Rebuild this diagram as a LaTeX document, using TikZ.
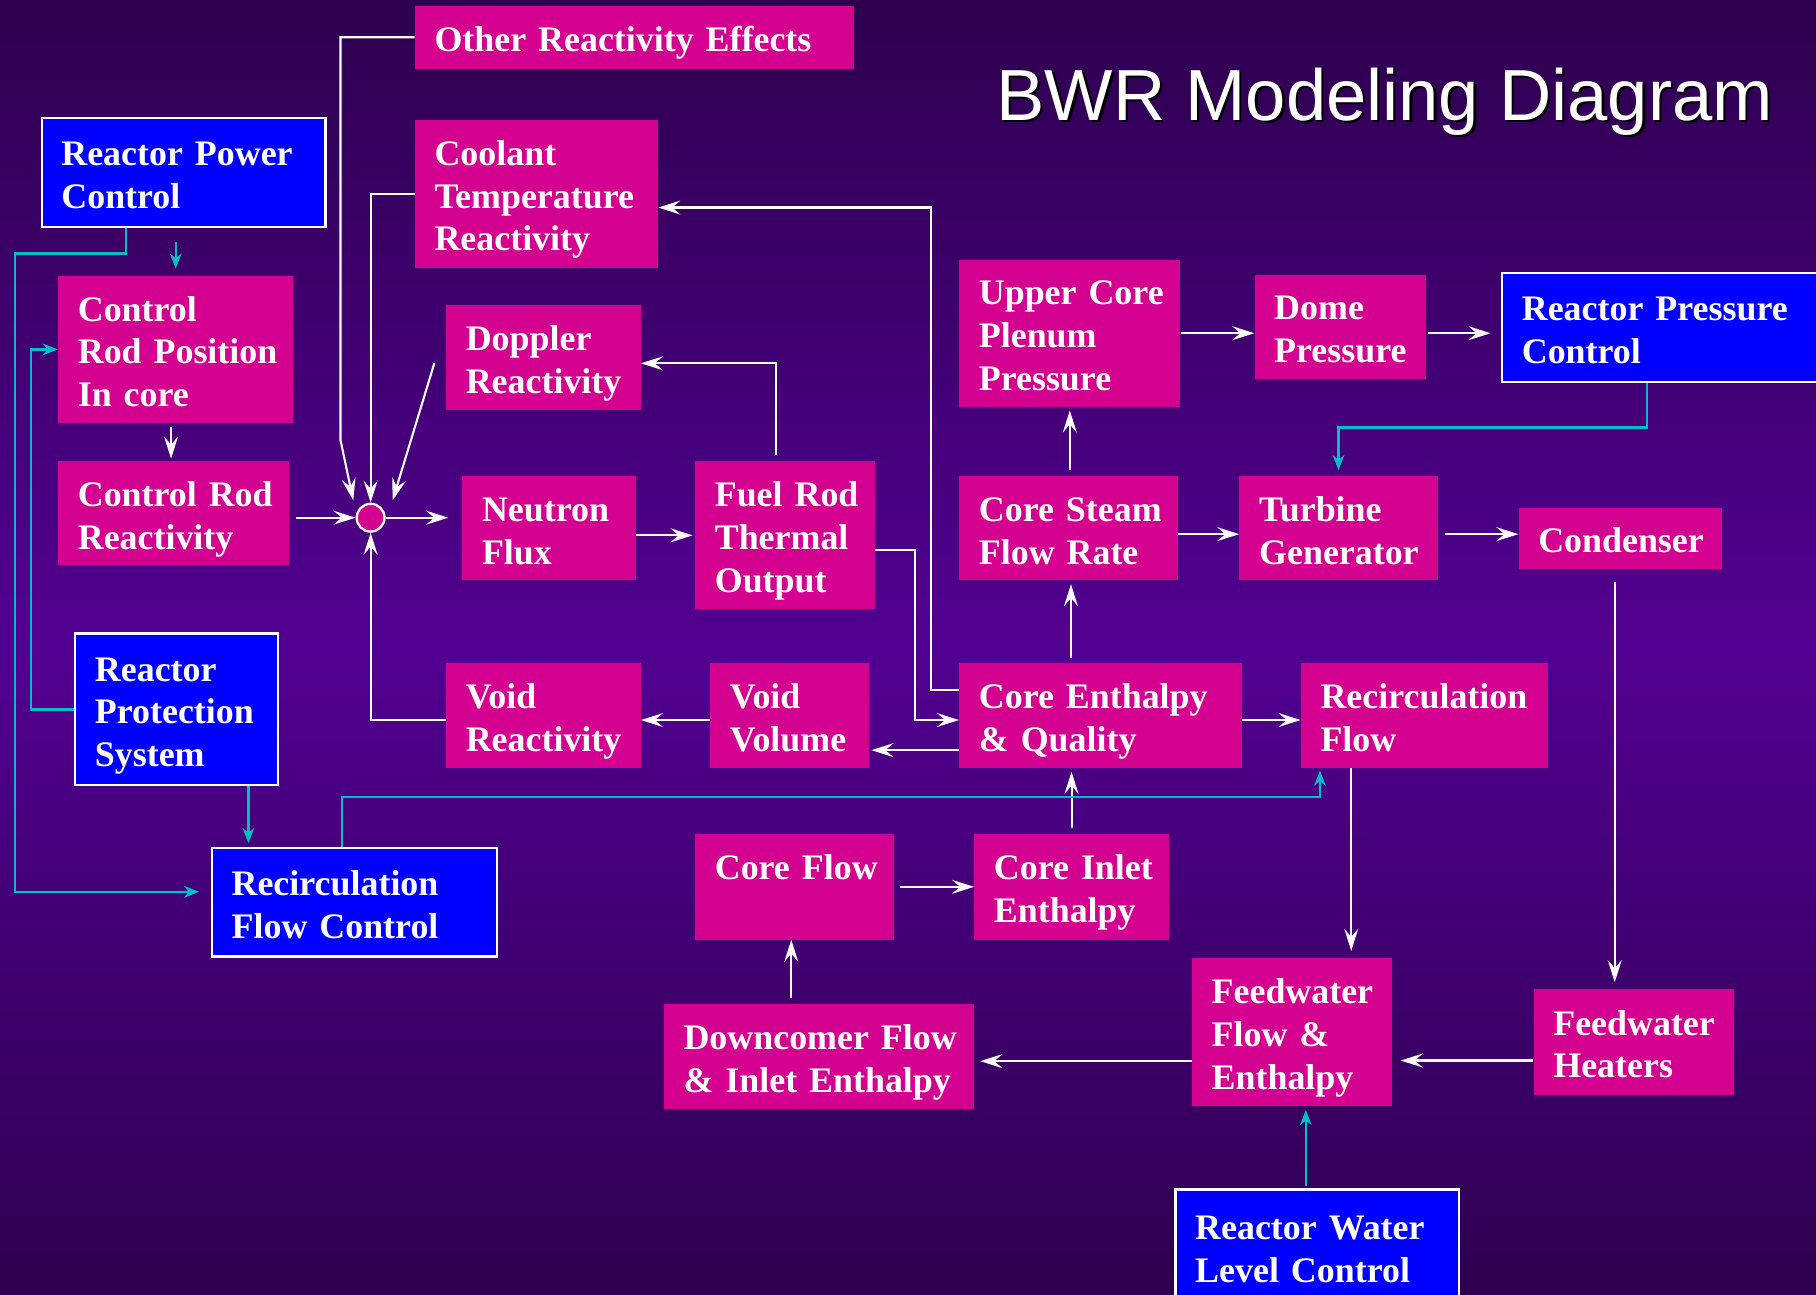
\documentclass[tikz,border=0pt]{standalone}
\usepackage{fontspec}
\setmainfont{Liberation Serif}
\newfontfamily\titlefont{Liberation Sans}
\usetikzlibrary{arrows.meta}
\definecolor{boxmag}{RGB}{212,0,143}
\definecolor{ctrlblue}{RGB}{0,0,255}
\definecolor{sigcyan}{RGB}{0,190,200}
\definecolor{bgdark}{RGB}{45,0,78}
\definecolor{bgmid}{RGB}{82,0,145}
\newcommand{\blockfont}{\bfseries\fontsize{31}{37}\selectfont}
\hyphenpenalty=10000

\begin{document}
\begin{tikzpicture}[x=1pt, y=-1pt,
  mbox/.style={fill=boxmag, text=white, anchor=north west, align=left,
    inner xsep=17pt, inner ysep=0pt, font=\blockfont,
    execute at begin node={\rule{0pt}{32pt}},
    execute at end node={\rule[-7pt]{0pt}{7pt}}},
  cbox/.style={mbox, fill=ctrlblue, draw=white, line width=2pt},
  flow/.style={draw=white, line width=1.8pt,
    -{Stealth[length=19pt, width=12pt, inset=7pt]}},
  sig/.style={draw=sigcyan, line width=2pt,
    -{Stealth[length=13pt, width=10pt, inset=4pt]}}]
  \useasboundingbox (0,0) rectangle (1568,1118);
  \shade[top color=bgdark, bottom color=bgdark, middle color=bgmid] (0,0) rectangle (1568,1118);
  % Title
  \node[anchor=base west, font=\titlefont\fontsize{62.5}{70}\selectfont, text=black] (titleshadow) at (859,106) {BWR Modeling Diagram};
  \node[anchor=base west, font=\titlefont\fontsize{62.5}{70}\selectfont, text=white] (title) at (857,104) {BWR Modeling Diagram};
  % Reactivity side
  \node[mbox, text width=345pt, minimum height=54pt] (other) at (358,5) {Other Reactivity Effects};
  \node[mbox, text width=176pt, minimum height=128pt] (coolant) at (358,103) {Coolant\\Temperature\\Reactivity};
  \node[mbox, text width=134pt, minimum height=91pt] (doppler) at (385,263) {Doppler\\Reactivity};
  \node[mbox, text width=169pt, minimum height=127pt] (crpos) at (50,238) {Control\\Rod~Position\\In~core};
  \node[mbox, text width=165pt, minimum height=90pt] (crreact) at (50,398) {Control~Rod\\Reactivity};
  \node[circle, fill=boxmag, draw=white, line width=2pt, minimum size=24pt, inner sep=0pt] (sum) at (320,447) {};
  \node[mbox, text width=116pt, minimum height=90pt] (flux) at (399,411) {Neutron\\Flux};
  \node[mbox, text width=121pt, minimum height=128pt] (fuel) at (600,398) {Fuel~Rod\\Thermal\\Output};
  \node[mbox, text width=134pt, minimum height=91pt] (voidr) at (385,572) {Void\\Reactivity};
  \node[mbox, text width=103pt, minimum height=91pt] (voidv) at (613,572) {Void\\Volume};
  % Steam side
  \node[mbox, text width=157pt, minimum height=127pt] (upper) at (828,224) {Upper~Core\\Plenum\\Pressure};
  \node[mbox, text width=114pt, minimum height=90pt] (dome) at (1083,237) {Dome\\Pressure};
  \node[mbox, text width=155pt, minimum height=90pt] (steam) at (828,411) {Core~Steam\\Flow~Rate};
  \node[mbox, text width=137pt, minimum height=90pt] (turbine) at (1070,411) {Turbine\\Generator};
  \node[mbox, text width=142pt, minimum height=53pt] (condenser) at (1311,438) {Condenser};
  \node[mbox, text width=210pt, minimum height=91pt] (enth) at (828,572) {Core~Enthalpy\\\&~Quality};
  \node[mbox, text width=179pt, minimum height=91pt] (recirc) at (1123,572) {Recirculation\\Flow};
  % Flow loop
  \node[mbox, text width=138pt, minimum height=91pt] (coreflow) at (600,720) {Core~Flow\\\mbox{}};
  \node[mbox, text width=134pt, minimum height=91pt] (inlet) at (841,720) {Core~Inlet\\Enthalpy};
  \node[mbox, text width=234pt, minimum height=90pt] (downc) at (573,867) {Downcomer~Flow\\\&~Inlet~Enthalpy};
  \node[mbox, text width=139pt, minimum height=128pt] (fwflow) at (1029,827) {Feedwater\\Flow~\&\\Enthalpy};
  \node[mbox, text width=139pt, minimum height=91pt] (fwheat) at (1324,854) {Feedwater\\Heaters};
  % Control systems
  \node[cbox, text width=211pt, minimum height=94pt] (rpc) at (35,101) {Reactor~Power\\Control};
  \node[cbox, text width=238pt, minimum height=94pt] (rprc) at (1296,235) {Reactor~Pressure\\Control};
  \node[cbox, text width=141pt, minimum height=131pt] (rps) at (64,546) {Reactor\\Protection\\System};
  \node[cbox, text width=212pt, minimum height=94pt] (rfc) at (182,731) {Recirculation\\Flow~Control};
  \node[cbox, text width=211pt, minimum height=98pt] (rwlc) at (1014,1026) {Reactor~Water\\Level~Control};
  % Arrows into the summing point
  \draw[flow] (other.west) -| (294,380) -- ([shift={(-15pt,15pt)}]sum.center);
  \draw[flow] (coolant.west) -| (sum.north);
  \draw[flow] ([shift={(-10pt,-5pt)}]doppler.west) -- ([shift={(19pt,15pt)}]sum.center);
  \draw[flow, shorten <=6pt] (crreact.east |- sum.west) -- (sum.west);
  \draw[flow] ([yshift=-4pt]voidr.west) -| (sum.south);
  \draw[flow, shorten >=12pt] (sum.east) -- (sum.east -| flux.west);
  \draw[flow, shorten <=3pt, shorten >=2pt] ([xshift=-4pt]crpos.south) -- ([xshift=-4pt]crpos.south |- crreact.north);
  % Core arrows
  \draw[flow, shorten >=2pt] (flux.east |- fuel.west) -- (fuel.west);
  \draw[flow] ([shift={(-8pt,5pt)}]fuel.north) |- ([yshift=-5pt]doppler.east);
  \draw[flow] ([yshift=-13pt]fuel.east) -- ++(35,0) |- ([yshift=-4pt]enth.west);
  \draw[flow] ([yshift=22pt]enth.west) -- ++(-24,0) |- ([yshift=-12pt]coolant.east);
  \draw[flow, shorten >=2pt] ([yshift=-30pt]enth.west) -- ([yshift=-30pt]enth.west -| voidv.east);
  \draw[flow] ([yshift=-4pt]voidv.west) -- ([yshift=-4pt]voidr.east);
  \draw[flow, shorten <=4pt, shorten >=3pt] ([xshift=2pt]steam.south |- enth.north) -- ([xshift=2pt]steam.south);
  \draw[flow, shorten <=5pt, shorten >=3pt] (steam.north -| upper.south) -- (upper.south);
  \draw[flow] (upper.east) -- (upper.east -| dome.west);
  \draw[flow, shorten <=2pt, shorten >=9pt] (upper.east -| dome.east) -- (upper.east -| rprc.west);
  \draw[flow] ([yshift=-5pt]steam.east) -- ([yshift=-5pt]turbine.west);
  \draw[flow, shorten <=6pt] ([yshift=-5pt]turbine.east) -- ([yshift=-5pt]turbine.east -| condenser.west);
  \draw[flow] ([yshift=-4pt]enth.east) -- ([yshift=-4pt]recirc.west);
  % Feedwater and recirculation arrows
  \draw[flow, shorten <=11pt, shorten >=6pt] ([xshift=-5pt]condenser.south) -- ([xshift=-5pt]condenser.south |- fwheat.north);
  \draw[flow, shorten >=6pt] ([xshift=-63pt]recirc.south) -- ([xshift=-63pt]recirc.south |- fwflow.north);
  \draw[flow, shorten >=7pt] ([yshift=-16pt]fwheat.west) -- ([yshift=-16pt]fwheat.west -| fwflow.east);
  \draw[flow, shorten >=5pt] ([yshift=-25pt]fwflow.west) -- ([yshift=-25pt]fwflow.west -| downc.east);
  \draw[flow, shorten <=5pt] ([xshift=-3pt]coreflow.south |- downc.north) -- ([xshift=-3pt]coreflow.south);
  \draw[flow, shorten <=5pt] (coreflow.east) -- (coreflow.east -| inlet.west);
  \draw[flow, shorten <=5pt, shorten >=3pt] (inlet.north) -- (inlet.north |- enth.south);
  % Control signals
  \draw[sig, shorten <=12pt, shorten >=6pt] (rpc.south -| crpos.north) -- (crpos.north);
  \draw[sig, shorten >=10pt] ([xshift=-50pt]rpc.south) |- (13,219) |- ([yshift=9pt]rfc.west);
  \draw[sig] (rps.west) -| ([xshift=-23pt]crpos.west) -- (crpos.west);
  \draw[sig, shorten >=3pt] ([xshift=62pt]rps.south) -- ([xshift=62pt]rps.south |- rfc.north);
  \draw[sig, shorten >=2pt] ([xshift=-11pt]rfc.north) -- ++(0,-43) -| ([xshift=-90pt]recirc.south);
  \draw[sig, shorten >=5pt] ([xshift=-11pt]rprc.south) -- ++(0,38) -| (turbine.north);
  \draw[sig, shorten <=2pt, shorten >=3pt] ([xshift=-10pt]rwlc.north) -- ([xshift=-10pt]rwlc.north |- fwflow.south);
\end{tikzpicture}
\end{document}
